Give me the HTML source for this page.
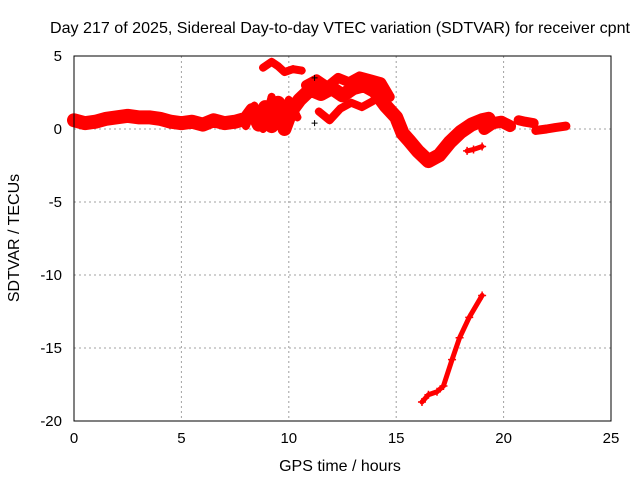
<!DOCTYPE html>
<html><head><meta charset="utf-8"><style>
body{margin:0;background:#fff}
svg{display:block;font-family:"Liberation Sans",sans-serif}
</style></head><body>
<svg id="chart" width="640" height="480" viewBox="0 0 640 480">
<text x="340" y="33" text-anchor="middle" font-size="16" textLength="580" lengthAdjust="spacingAndGlyphs">Day 217 of 2025, Sidereal Day-to-day VTEC variation (SDTVAR) for receiver cpnt</text>
<text x="340" y="471" text-anchor="middle" font-size="16">GPS time / hours</text>
<text transform="translate(19,238) rotate(-90)" text-anchor="middle" font-size="16">SDTVAR / TECUs</text>
<g id="grid"></g><g id="ticks"></g><g id="marks"></g>
<rect x="74" y="56" width="537" height="365" fill="none" stroke="#000" stroke-width="1"/>
</svg>
<script>
const xTicks=[0,5,10,15,20,25];
const yTicks=[5,0,-5,-10,-15,-20];
const mainT=[0,0.5,1,1.5,2,2.5,3,3.5,4,4.5,5,5.5,6,6.5,7,7.5,8,8.3,8.6,8.9,9.2,9.5,9.8,10.1,10.5,11,11.5,12,12.5,13,13.5,14,14.5,15,15.3,15.6,16,16.5,17,17.5,18,18.5,19,19.3];
const mainV=[0.6,0.4,0.5,0.7,0.8,0.9,0.8,0.8,0.7,0.5,0.4,0.5,0.3,0.6,0.4,0.5,0.7,1.3,0.3,1.5,0.2,1.8,0.0,1.2,2.0,2.7,2.4,2.8,2.3,2.8,3.0,2.6,1.6,0.8,-0.3,-0.8,-1.5,-2.2,-1.8,-0.9,-0.2,0.3,0.6,0.7];
const upperT=[10.8,11.3,11.8,12.3,12.8,13.3,13.8,14.3,14.7];
const upperV=[3.0,3.4,2.9,3.5,3.2,3.6,3.4,3.2,2.2];
const lowerT=[11.4,11.9,12.4,12.9,13.4,13.9];
const lowerV=[1.2,0.6,1.4,1.8,1.5,1.9];
const wavyT=[8.0,8.4,8.8,9.2,9.6,10.0,10.4];
const wavyV=[0.2,1.6,0.0,2.2,0.5,2.0,0.8];
const highT=[8.8,9.2,9.5,9.8,10.2,10.6];
const highV=[4.2,4.6,4.3,3.9,4.1,4.0];
const tailAT=[19.1,19.5,19.9,20.3];
const tailAV=[0.0,0.4,0.5,0.2];
const tailBT=[20.7,21.0,21.4];
const tailBV=[0.6,0.5,0.4];
const tailCT=[21.5,22.0,22.4,22.9];
const tailCV=[-0.1,0.0,0.1,0.2];
const smallT=[18.3,18.6,19.0];
const smallV=[-1.5,-1.4,-1.2];
const lowT=[16.2,16.5,16.9,17.2,17.6,17.95,18.4,19.0];
const lowV=[-18.7,-18.2,-18.0,-17.6,-15.8,-14.3,-12.9,-11.4];
const blackT=[11.2,11.2];
const blackV=[3.5,0.4];

const NS='http://www.w3.org/2000/svg';
const X=t=>74+t*(537/25);
const Y=v=>56+(5-v)*(365/25);
function mk(tag,attrs,parent){const e=document.createElementNS(NS,tag);for(const k in attrs)e.setAttribute(k,attrs[k]);parent.appendChild(e);return e;}
const grid=document.getElementById('grid'),ticks=document.getElementById('ticks'),marks=document.getElementById('marks');
xTicks.forEach(t=>{
  if(t>0&&t<25){const g=mk('line',{x1:X(t),x2:X(t),y1:56,y2:421,stroke:'#a0a0a0','stroke-dasharray':'2,3'},grid);
  
  }
  const l=mk('text',{x:X(t),y:443,'text-anchor':'middle','font-size':'15'},ticks);l.textContent=t;
  
  
});
yTicks.forEach(v=>{
  if(v<5&&v>-20){const g=mk('line',{x1:74,x2:611,y1:Y(v),y2:Y(v),stroke:'#a0a0a0','stroke-dasharray':'2,3'},grid);
  
  }
  const l=mk('text',{x:62,y:Y(v)+5,'text-anchor':'end','font-size':'15'},ticks);l.textContent=v;
  
  
});
function series(T,V,w,name,color){
  const g=mk('g',{},marks);
  
  
  if(T.length>1){const p=mk('polyline',{points:T.map((t,i)=>X(t)+','+Y(V[i])).join(' '),fill:'none',stroke:color,'stroke-width':w,'stroke-linejoin':'round','stroke-linecap':'round'},g);
  
  }
  T.forEach((t,i)=>{const x=X(t),y=Y(V[i]);
    const m=mk('path',{d:`M${x-4},${y}H${x+4}M${x},${y-4}V${y+4}`,stroke:color,'stroke-width':1.5},g);
    
    });
}
series(mainT,mainV,14,'main-series','#f00');
series(upperT,upperV,10,'upper-series','#f00');
series(lowerT,lowerV,8,'lower-series','#f00');
series(wavyT,wavyV,8,'wavy-series','#f00');
series(highT,highV,8,'high-series','#f00');
series(tailAT,tailAV,12,'tail-a-series','#f00');
series(tailBT,tailBV,10,'tail-b-series','#f00');
series(tailCT,tailCV,9,'tail-c-series','#f00');
series(smallT,smallV,5,'small-series','#f00');
series(lowT,lowV,5,'low-series','#f00');
blackT.forEach((t,i)=>{const x=X(t),y=Y(blackV[i]);
  const m=mk('path',{d:`M${x-3},${y}H${x+3}M${x},${y-3}V${y+3}`,stroke:'#000','stroke-width':1},marks);
  
  });
</script>
</body></html>
